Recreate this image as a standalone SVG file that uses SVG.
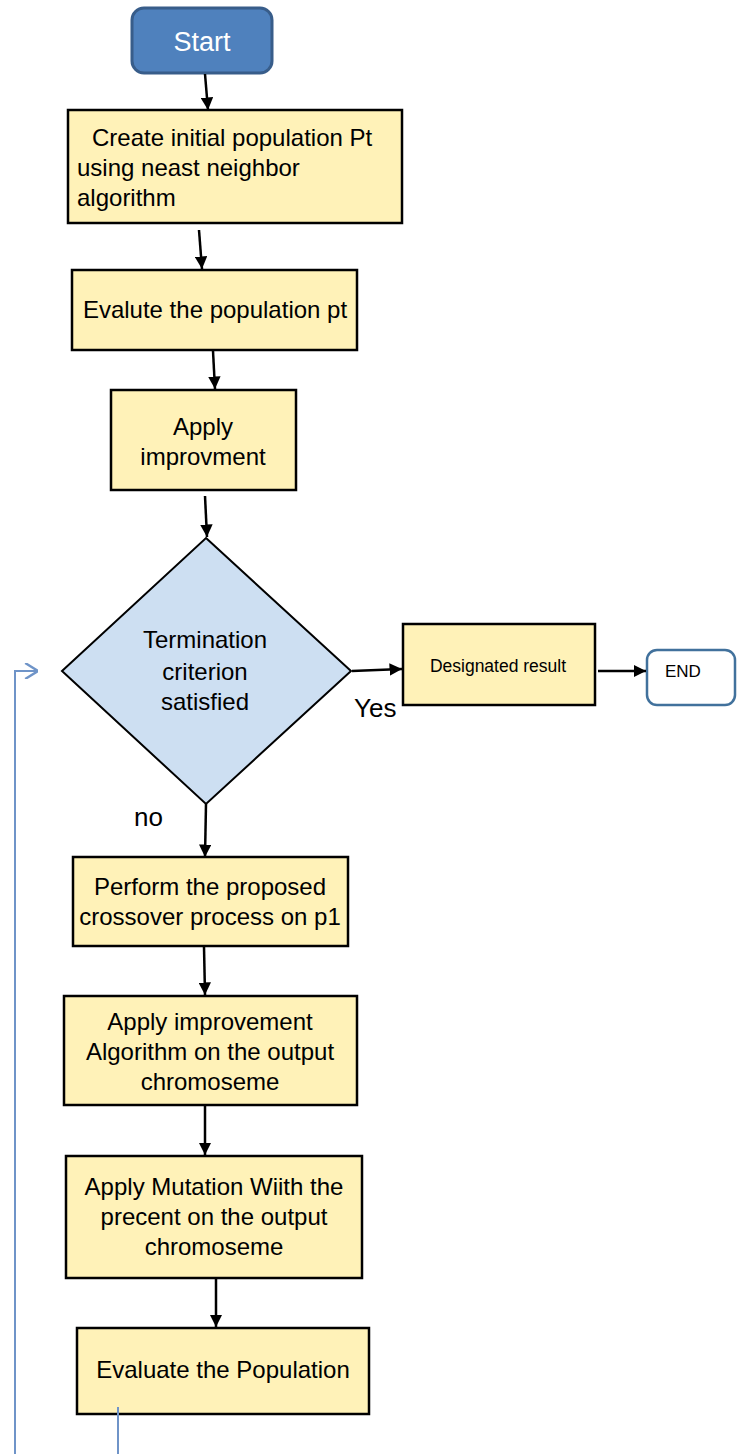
<svg xmlns="http://www.w3.org/2000/svg" width="739" height="1454" viewBox="0 0 739 1454">
<defs>
<style>
.box{fill:#fff2b8;stroke:#000;stroke-width:2.5}
.t{font-family:"Liberation Sans",Arial,sans-serif;font-size:24px;fill:#000}
.c{text-anchor:middle}
.con{stroke:#000;stroke-width:2.5;fill:none}
.blue{stroke:#6f94c8;stroke-width:2;fill:none}
</style>
<marker id="ah" viewBox="0 0 10 10" refX="10" refY="5" markerWidth="5" markerHeight="5" orient="auto" markerUnits="strokeWidth">
<path d="M0,0 L10,5 L0,10 z" fill="#000"/>
</marker>
<marker id="open" viewBox="0 0 10 10" refX="10" refY="5" markerWidth="8" markerHeight="8" orient="auto" markerUnits="strokeWidth">
<path d="M2,0 L10,5 L2,10" fill="none" stroke="#6f94c8" stroke-width="1.5"/>
</marker>
</defs>
<rect width="739" height="1454" fill="#fff"/>
<g id="start">
<rect x="132" y="8" width="140" height="65" rx="12" fill="#4f81bd" stroke="#385d8a" stroke-width="3"/>
<text class="t c" x="202" y="51" style="fill:#fff;font-size:27px">Start</text>
</g>
<g id="create">
<rect class="box" x="68" y="110" width="334" height="113"/>
<text class="t" x="92" y="146">Create initial population Pt</text>
<text class="t" x="77" y="176">using neast neighbor</text>
<text class="t" x="77" y="206">algorithm</text>
</g>
<g id="evalute">
<rect class="box" x="72" y="270" width="285" height="80"/>
<text class="t c" x="215" y="318">Evalute the population pt</text>
</g>
<g id="improv">
<rect class="box" x="111" y="390" width="185" height="100"/>
<text class="t c" x="203" y="435">Apply</text>
<text class="t c" x="203" y="465">improvment</text>
</g>
<g id="decision">
<polygon points="206,538 351,671 206,804 62,671" fill="#cddff2" stroke="#000" stroke-width="2"/>
<text class="t c" x="205" y="648">Termination</text>
<text class="t c" x="205" y="680">criterion</text>
<text class="t c" x="205" y="710">satisfied</text>
</g>
<g id="designated">
<rect class="box" x="403" y="624" width="192" height="81"/>
<text class="t c" x="498" y="672" style="font-size:17.5px">Designated result</text>
</g>
<g id="end">
<rect x="647" y="650" width="88" height="55" rx="10" fill="#fff" stroke="#41719c" stroke-width="2.5"/>
<text class="t" x="665" y="677" style="font-size:17px">END</text>
</g>
<g id="crossover">
<rect class="box" x="73" y="857" width="275" height="89"/>
<text class="t c" x="210" y="895">Perform the proposed</text>
<text class="t c" x="210" y="925">crossover process on p1</text>
</g>
<g id="improvement">
<rect class="box" x="64" y="996" width="293" height="109"/>
<text class="t c" x="210" y="1030">Apply improvement</text>
<text class="t c" x="210" y="1060">Algorithm on the output</text>
<text class="t c" x="210" y="1090">chromoseme</text>
</g>
<g id="mutation">
<rect class="box" x="66" y="1156" width="296" height="122"/>
<text class="t c" x="214" y="1195">Apply Mutation Wiith the</text>
<text class="t c" x="214" y="1225">precent on the output</text>
<text class="t c" x="214" y="1255">chromoseme</text>
</g>
<g id="evaluate">
<rect class="box" x="77" y="1328" width="292" height="86"/>
<text class="t c" x="223" y="1378">Evaluate the Population</text>
</g>
<g id="connectors">
<line class="con" x1="205" y1="74" x2="208" y2="110" marker-end="url(#ah)"/>
<line class="con" x1="199" y1="230" x2="202" y2="269" marker-end="url(#ah)"/>
<line class="con" x1="213" y1="351" x2="215" y2="389" marker-end="url(#ah)"/>
<line class="con" x1="205" y1="496" x2="207" y2="537" marker-end="url(#ah)"/>
<line class="con" x1="352" y1="671" x2="402" y2="669" marker-end="url(#ah)"/>
<line class="con" x1="598" y1="671" x2="646" y2="671" marker-end="url(#ah)"/>
<line class="con" x1="206" y1="804" x2="205" y2="857" marker-end="url(#ah)"/>
<line class="con" x1="204" y1="947" x2="205" y2="995" marker-end="url(#ah)"/>
<line class="con" x1="205" y1="1106" x2="205" y2="1155" marker-end="url(#ah)"/>
<line class="con" x1="216" y1="1279" x2="216" y2="1327" marker-end="url(#ah)"/>
<line class="blue" x1="118" y1="1407" x2="118" y2="1454"/>
<polyline class="blue" points="15,1454 15,671 38,671" marker-end="url(#open)"/>
<text class="t" x="354" y="717" style="font-size:26px">Yes</text>
<text class="t" x="134" y="826" style="font-size:26px">no</text>
</g>
</svg>
